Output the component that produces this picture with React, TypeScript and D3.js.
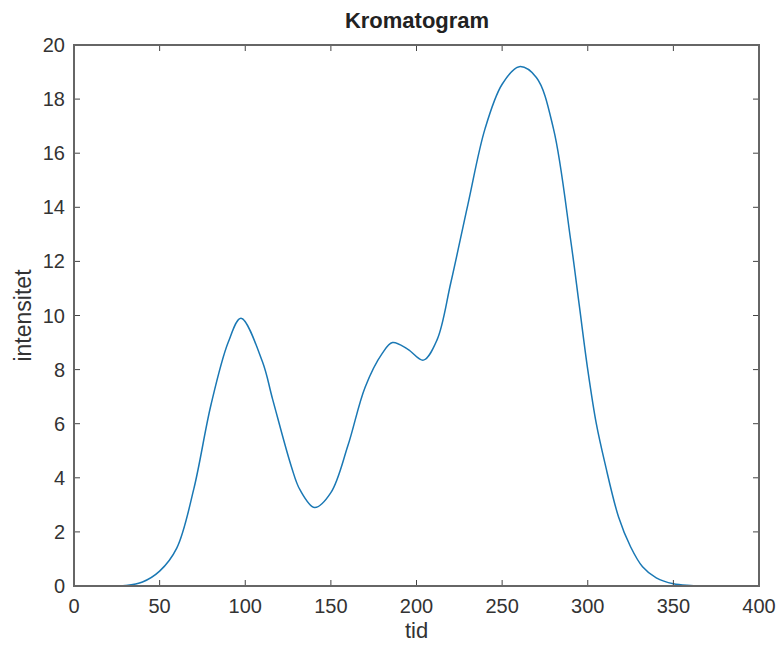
import React, { useEffect, useRef } from "react";
import * as d3 from "d3";

// values
const tid = [
  0, 10, 20, 30, 40, 50, 60, 70, 80, 90, 97.5, 110, 116, 127, 132, 140.5, 150,
  160, 170, 180, 186, 195, 204, 212, 220, 230, 240, 250, 260, 270, 280, 290,
  295, 300, 305, 310, 318, 325, 332, 340, 350, 360, 370, 380, 390, 400,
];
const intensitet = [
  0, 0, 0, 0.02, 0.15, 0.55, 1.4, 3.6, 6.7, 9.0, 9.9, 8.3, 6.9, 4.4, 3.55, 2.9,
  3.45, 5.2, 7.35, 8.6, 9.0, 8.75, 8.35, 9.1, 11.2, 14.1, 16.9, 18.55, 19.2,
  18.8, 16.9, 12.8, 10.4, 8.0, 6.0, 4.55, 2.55, 1.45, 0.71, 0.3, 0.08, 0.02, 0,
  0, 0, 0,
];
const xTicks = [0, 50, 100, 150, 200, 250, 300, 350, 400];
const yTicks = [0, 2, 4, 6, 8, 10, 12, 14, 16, 18, 20];

const W = 777;
const H = 645;
const plot = { left: 74, right: 759, top: 45, bottom: 586 };

const App = () => {
  const ref = useRef<SVGSVGElement>(null);

  useEffect(() => {
    const svg = d3.select(ref.current);
    svg.selectAll("*").remove();

    const x = d3.scaleLinear().domain([0, 400]).range([plot.left, plot.right]);
    const y = d3.scaleLinear().domain([0, 20]).range([plot.bottom, plot.top]);

    const axisColor = "#666666";
    const textColor = "#333333";
    const font = "'Liberation Sans', Arial, sans-serif";

    svg.append("rect").attr("width", W).attr("height", H).attr("fill", "#fff");

    const pts = tid.map((t, i) => [t, intensitet[i]] as [number, number]);
    const line = d3
      .line<[number, number]>()
      .x((d) => x(d[0]))
      .y((d) => y(d[1]))
      .curve(d3.curveCatmullRom.alpha(0.5));

    svg
      .append("path")
      .datum(pts)
      .attr("d", line)
      .attr("fill", "none")
      .attr("stroke", "#1a78b4")
      .attr("stroke-width", 1.5);

    // inward ticks on all four sides
    const tick = 6;
    const g = svg.append("g").attr("stroke", "#444").attr("stroke-width", 1);
    xTicks.forEach((t) => {
      g.append("line")
        .attr("x1", x(t)).attr("x2", x(t))
        .attr("y1", plot.bottom).attr("y2", plot.bottom - tick);
      g.append("line")
        .attr("x1", x(t)).attr("x2", x(t))
        .attr("y1", plot.top).attr("y2", plot.top + tick);
    });
    yTicks.forEach((t) => {
      g.append("line")
        .attr("x1", plot.left).attr("x2", plot.left + tick)
        .attr("y1", y(t)).attr("y2", y(t));
      g.append("line")
        .attr("x1", plot.right).attr("x2", plot.right - tick)
        .attr("y1", y(t)).attr("y2", y(t));
    });

    svg
      .append("rect")
      .attr("x", plot.left)
      .attr("y", plot.top)
      .attr("width", plot.right - plot.left)
      .attr("height", plot.bottom - plot.top)
      .attr("fill", "none")
      .attr("stroke", axisColor)
      .attr("stroke-width", 2);

    svg
      .selectAll(".xl")
      .data(xTicks)
      .enter()
      .append("text")
      .attr("x", (d) => x(d))
      .attr("y", plot.bottom + 27)
      .attr("text-anchor", "middle")
      .attr("font-family", font)
      .attr("font-size", 20)
      .attr("fill", textColor)
      .text((d) => d);

    svg
      .selectAll(".yl")
      .data(yTicks)
      .enter()
      .append("text")
      .attr("x", plot.left - 9)
      .attr("y", (d) => y(d) + 7)
      .attr("text-anchor", "end")
      .attr("font-family", font)
      .attr("font-size", 20)
      .attr("fill", textColor)
      .text((d) => d);

    svg
      .append("text")
      .attr("x", (plot.left + plot.right) / 2)
      .attr("y", 638)
      .attr("text-anchor", "middle")
      .attr("font-family", font)
      .attr("font-size", 22)
      .attr("fill", textColor)
      .text("tid");

    svg
      .append("text")
      .attr("transform", `translate(31,${(plot.top + plot.bottom) / 2}) rotate(-90)`)
      .attr("text-anchor", "middle")
      .attr("font-family", font)
      .attr("font-size", 23)
      .attr("fill", textColor)
      .text("intensitet");

    svg
      .append("text")
      .attr("x", 417)
      .attr("y", 28)
      .attr("text-anchor", "middle")
      .attr("font-family", font)
      .attr("font-size", 22)
      .attr("font-weight", "bold")
      .attr("fill", "#222")
      .text("Kromatogram");
  }, []);

  return (
    <svg
      ref={ref}
      width={W}
      height={H}
      style={{ position: "absolute", left: 0, top: 0 }}
    />
  );
};

export default App;
